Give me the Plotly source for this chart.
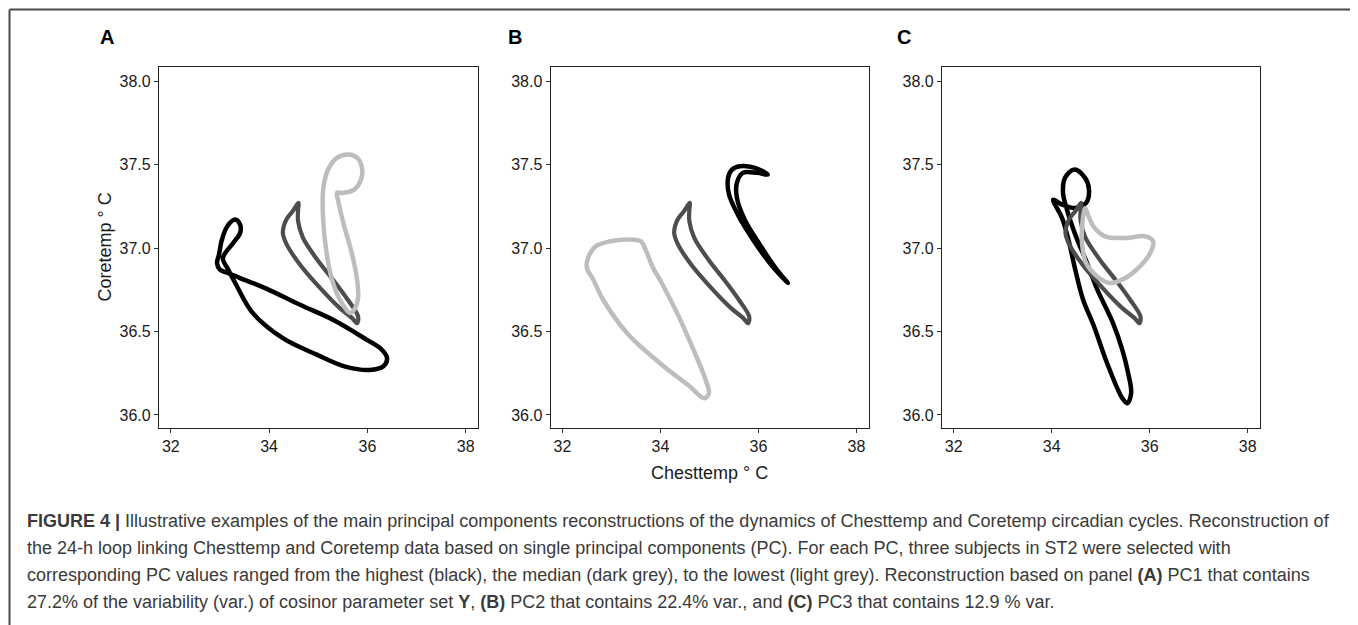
import plotly.graph_objects as go

# ---------------- data (°C) ----------------
x_ticks = [32, 34, 36, 38]
y_ticks = [36.0, 36.5, 37.0, 37.5, 38.0]
panel_letters = ["A", "B", "C"]

# Panel A (PC1)
a_high_x = [33.06, 33.17, 33.33, 33.67, 34.28, 34.98, 35.55, 36.05, 36.32, 36.40, 36.26, 35.99, 35.30, 34.63, 33.92, 33.41, 33.17, 33.00, 32.94, 32.98, 33.04, 33.15, 33.31, 33.41, 33.41, 33.27]
a_high_y = [36.94, 36.87, 36.78, 36.61, 36.46, 36.36, 36.29, 36.27, 36.29, 36.34, 36.40, 36.45, 36.57, 36.66, 36.76, 36.82, 36.85, 36.87, 36.91, 36.96, 37.05, 37.13, 37.17, 37.14, 37.09, 37.03]
a_low_x = [35.65, 35.44, 35.28, 35.16, 35.10, 35.10, 35.20, 35.38, 35.61, 35.79, 35.89, 35.87, 35.73, 35.50, 35.38, 35.40, 35.52, 35.69, 35.79, 35.81, 35.75]
a_low_y = [36.61, 36.69, 36.81, 36.99, 37.17, 37.35, 37.47, 37.54, 37.56, 37.54, 37.48, 37.41, 37.35, 37.33, 37.33, 37.29, 37.14, 36.96, 36.81, 36.70, 36.64]

# Median subject (dark grey), same loop in every panel
median_x = [34.60, 34.48, 34.35, 34.28, 34.36, 34.63, 35.04, 35.44, 35.69, 35.79, 35.81, 35.60, 35.30, 34.98, 34.69, 34.59, 34.59]
median_y = [37.27, 37.22, 37.17, 37.09, 37.02, 36.90, 36.76, 36.64, 36.58, 36.55, 36.59, 36.69, 36.81, 36.93, 37.06, 37.16, 37.23]

# Panel B (PC2)
b_high_x = [36.19, 35.93, 35.62, 35.46, 35.38, 35.40, 35.58, 35.89, 36.23, 36.60, 36.35, 36.03, 35.72, 35.56, 35.56, 35.68, 35.97]
b_high_y = [37.44, 37.48, 37.49, 37.47, 37.42, 37.32, 37.20, 37.05, 36.91, 36.79, 36.88, 37.02, 37.17, 37.30, 37.39, 37.45, 37.45]
b_low_x = [32.52, 32.68, 32.97, 33.44, 33.60, 33.71, 33.85, 33.99, 34.34, 34.66, 34.91, 34.99, 34.89, 34.60, 33.99, 33.32, 32.83, 32.63, 32.50]
b_low_y = [36.94, 37.01, 37.04, 37.05, 37.04, 36.98, 36.88, 36.81, 36.61, 36.40, 36.22, 36.13, 36.10, 36.17, 36.31, 36.49, 36.69, 36.81, 36.88]

# Panel C (PC3)
c_high_x = [34.03, 34.21, 34.48, 34.70, 34.76, 34.68, 34.46, 34.27, 34.23, 34.30, 34.48, 34.72, 34.93, 35.25, 35.44, 35.56, 35.62, 35.54, 35.44, 35.13, 34.85, 34.64, 34.48, 34.34, 34.21]
c_high_y = [37.29, 37.26, 37.24, 37.27, 37.35, 37.42, 37.47, 37.42, 37.33, 37.24, 37.08, 36.91, 36.75, 36.55, 36.39, 36.25, 36.13, 36.07, 36.10, 36.31, 36.54, 36.69, 36.87, 37.05, 37.18]
c_low_x = [34.68, 34.62, 34.62, 34.70, 34.93, 35.19, 35.50, 35.80, 36.01, 36.07, 35.91, 35.50, 35.09, 34.85, 34.75]
c_low_y = [37.24, 37.13, 37.02, 36.91, 36.83, 36.79, 36.82, 36.89, 36.97, 37.04, 37.07, 37.06, 37.07, 37.13, 37.19]

caption_lines = [
    "<b>FIGURE 4 |</b> Illustrative examples of the main principal components reconstructions of the dynamics of Chesttemp and Coretemp circadian cycles. Reconstruction of",
    "the 24-h loop linking Chesttemp and Coretemp data based on single principal components (PC). For each PC, three subjects in ST2 were selected with",
    "corresponding PC values ranged from the highest (black), the median (dark grey), to the lowest (light grey). Reconstruction based on panel <b>(A)</b> PC1 that contains",
    "27.2% of the variability (var.) of cosinor parameter set <b>Y</b>, <b>(B)</b> PC2 that contains 22.4% var., and <b>(C)</b> PC3 that contains 12.9 % var.",
]

# ---------------- layout helpers ----------------
OFF = 8                       # page body margin of the html page
W, H = 1358 - OFF, 625 - OFF  # figure size so that it fills the window
COL_HIGH, COL_MED, COL_LOW = "#000000", "#4d4d4d", "#bdbdbd"
FONT = "Liberation Sans, Arial, sans-serif"


def px(xw):
    return (xw - OFF) / W


def py(yw):
    return 1 - (yw - OFF) / H


def closed(v):
    return list(v) + [v[0]]


panels = [
    ((a_high_x, a_high_y), (median_x, median_y), (a_low_x, a_low_y)),
    ((b_high_x, b_high_y), (median_x, median_y), (b_low_x, b_low_y)),
    ((c_high_x, c_high_y), (median_x, median_y), (c_low_x, c_low_y)),
]
x_px = [(159, 478), (550.7, 868.7), (942, 1260)]
y_top, y_bot = 67, 428

fig = go.Figure()
for i, (hi, med, lo) in enumerate(panels):
    ax = "" if i == 0 else str(i + 1)
    for (xs, ys), col, w in [(hi, COL_HIGH, 4.5), (med, COL_MED, 4.2), (lo, COL_LOW, 4.5)]:
        fig.add_trace(go.Scatter(
            x=closed(xs), y=closed(ys), mode="lines",
            line=dict(color=col, width=w, shape="spline", smoothing=1.0),
            xaxis="x" + ax, yaxis="y" + ax, showlegend=False, hoverinfo="skip"))
    axis_common = dict(showgrid=False, zeroline=False, showline=True, mirror=True,
                       linecolor="#222222", linewidth=1.3, ticks="outside", ticklen=4,
                       tickwidth=1.1, tickcolor="#333333",
                       tickfont=dict(family=FONT, size=16, color="#1a1a1a"))
    fig.update_layout(**{
        "xaxis" + ax: dict(axis_common, domain=[px(x_px[i][0]), px(x_px[i][1])],
                           range=[31.76, 38.25], tickvals=x_ticks, anchor="y" + ax),
        "yaxis" + ax: dict(axis_common, domain=[py(y_bot), py(y_top)],
                           range=[35.922, 38.084], tickvals=y_ticks, tickformat=".1f",
                           anchor="x" + ax),
    })

annotations = []
for letter, xc in zip(panel_letters, [107, 515, 904]):
    annotations.append(dict(text="<b>%s</b>" % letter, x=px(xc), y=py(37), xref="paper", yref="paper",
                            showarrow=False, xanchor="center", yanchor="middle",
                            font=dict(family=FONT, size=20, color="#000000")))
annotations.append(dict(text="Coretemp ° C", x=px(104), y=py(247.5), xref="paper", yref="paper",
                        showarrow=False, textangle=-90, xanchor="center", yanchor="middle",
                        font=dict(family=FONT, size=18, color="#1a1a1a")))
annotations.append(dict(text="Chesttemp ° C", x=px(709.7), y=py(473), xref="paper", yref="paper",
                        showarrow=False, xanchor="center", yanchor="middle",
                        font=dict(family=FONT, size=18, color="#1a1a1a")))
for k, line in enumerate(caption_lines):
    annotations.append(dict(text=line, x=px(25), y=py(521 + 27 * k), xref="paper", yref="paper",
                            showarrow=False, xanchor="left", yanchor="middle", align="left",
                            font=dict(family=FONT, size=18, color="#3a3a3a")))

# outer frame (top, left, right edges; bottom continues past the window)
fx0, fx1, fy1 = 1.5 / W, px(1355), 1 - 1.5 / H
frame = dict(color="#4a4a4a", width=2)
shapes = [
    dict(type="line", xref="paper", yref="paper", x0=fx0, x1=fx1, y0=fy1, y1=fy1, line=frame, layer="above"),
    dict(type="line", xref="paper", yref="paper", x0=fx0, x1=fx0, y0=-0.01, y1=fy1, line=frame, layer="above"),
    dict(type="line", xref="paper", yref="paper", x0=fx1, x1=fx1, y0=-0.01, y1=fy1, line=frame, layer="above"),
]

fig.update_layout(
    width=W, height=H, autosize=False,
    margin=dict(l=0, r=0, t=0, b=0),
    paper_bgcolor="white", plot_bgcolor="white",
    annotations=annotations,
    shapes=shapes,
)

fig.write_html("out.html")
